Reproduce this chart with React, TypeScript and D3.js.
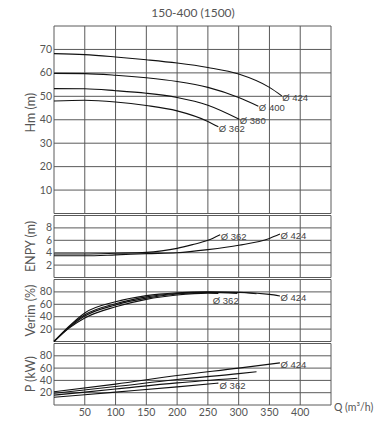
import React from "react";
import * as d3 from "d3";

const title = "150-400 (1500)";
const xTicks = [50, 100, 150, 200, 250, 300, 350, 400];
const xGrid = [0, 50, 100, 150, 200, 250, 300, 350, 400, 450];

// Head curves (Q m3/h, H m)
const hQ424 = [0, 50, 100, 150, 200, 250, 300, 350, 370];
const hH424 = [68.2, 67.8, 66.8, 65.6, 64.2, 62.3, 59.5, 53.8, 50.2];
const hQ400 = [0, 50, 100, 150, 200, 250, 300, 332];
const hH400 = [59.8, 59.7, 59.0, 57.9, 56.3, 53.8, 49.5, 45.8];
const hQ380 = [0, 50, 100, 150, 200, 250, 301];
const hH380 = [53.3, 53.2, 52.4, 51.3, 49.5, 46.2, 40.2];
const hQ362 = [0, 50, 100, 150, 200, 250, 267];
const hH362 = [48.0, 48.3, 47.6, 46.1, 43.8, 39.3, 37.0];

// NPSH curves
const nQ362 = [0, 50, 100, 150, 175, 200, 225, 250, 270];
const nV362 = [3.8, 3.8, 3.9, 4.05, 4.3, 4.7, 5.3, 6.0, 6.9];
const nQ424 = [0, 50, 100, 150, 200, 250, 300, 350, 367];
const nV424 = [3.5, 3.5, 3.65, 3.85, 4.0, 4.5, 5.2, 6.3, 7.0];

// Efficiency curves
const eQ424 = [0, 25, 50, 100, 150, 200, 250, 300, 350, 367];
const eV424 = [0, 25, 46, 64, 74, 78.5, 80, 79.5, 76, 73.5];
const eQ400 = [0, 25, 50, 100, 150, 200, 250, 300, 329];
const eV400 = [0, 24, 43, 61, 72, 77.5, 79.5, 79, 77];
const eQ380 = [0, 25, 50, 100, 150, 200, 250, 298];
const eV380 = [0, 23, 41, 59, 70, 76.5, 79, 77.5];
const eQ362 = [0, 25, 50, 100, 150, 200, 250, 267];
const eV362 = [0, 22, 38, 56, 68, 75, 78, 77.5];

// Power curves
const pQ424 = [0, 100, 200, 300, 367];
const pV424 = [21.5, 34, 48, 60, 68.5];
const pQ400 = [0, 100, 200, 300, 329];
const pV400 = [19, 30, 41.5, 51, 54];
const pQ380 = [0, 100, 200, 298];
const pV380 = [16, 26, 36, 43.5];
const pQ362 = [0, 100, 200, 267];
const pV362 = [12.5, 21, 29.5, 35.5];

const hTicks = [10, 20, 30, 40, 50, 60, 70];
const nTicks = [2, 4, 6, 8];
const eTicks = [20, 40, 60, 80];
const pTicks = [20, 40, 60, 80];

const zip = (q: number[], v: number[]) => q.map((d, i) => [d, v[i]] as [number, number]);

const LEFT = 54;
const RIGHT = 331;
const GRID = "#5a5a5a";
const TEXT = "#555";
const AXFONT = "Lato, 'DejaVu Sans', sans-serif";
const LBLFONT = "'Liberation Sans', Arial, sans-serif";

type Panel = {
  top: number;
  bottom: number;
  max: number;
  ticks: number[];
  label: string;
  series: { pts: [number, number][]; label?: string }[];
};

export default function App() {
  const x = d3.scaleLinear().domain([0, 450]).range([LEFT, RIGHT]);

  const panels: Panel[] = [
    {
      top: 26, bottom: 213.5, max: 80, ticks: hTicks, label: "Hm (m)",
      series: [
        { pts: zip(hQ424, hH424), label: "Ø 424" },
        { pts: zip(hQ400, hH400), label: "Ø 400" },
        { pts: zip(hQ380, hH380), label: "Ø 380" },
        { pts: zip(hQ362, hH362), label: "Ø 362" },
      ],
    },
    {
      top: 215.5, bottom: 277.5, max: 10, ticks: nTicks, label: "ENPY (m)",
      series: [
        { pts: zip(nQ362, nV362), label: "Ø 362" },
        { pts: zip(nQ424, nV424), label: "Ø 424" },
      ],
    },
    {
      top: 279.5, bottom: 341.5, max: 100, ticks: eTicks, label: "Verim (%)",
      series: [
        { pts: zip(eQ424, eV424), label: "Ø 424" },
        { pts: zip(eQ400, eV400) },
        { pts: zip(eQ380, eV380) },
        { pts: zip(eQ362, eV362) },
      ],
    },
    {
      top: 343.5, bottom: 405, max: 100, ticks: pTicks, label: "P (kW)",
      series: [
        { pts: zip(pQ424, pV424), label: "Ø 424" },
        { pts: zip(pQ400, pV400) },
        { pts: zip(pQ380, pV380) },
        { pts: zip(pQ362, pV362) },
      ],
    },
  ];

  const extraLabels = [
    { panel: 2, q: 258, v: 67, text: "Ø 362" },
    { panel: 3, q: 269, v: 32, text: "Ø 362" },
  ];

  return (
    <svg width={380} height={431} style={{ position: "absolute", left: 0, top: 0, background: "#fff" }}>
      <text x={193} y={17} textAnchor="middle" fontSize={12} fill={TEXT} fontFamily={AXFONT}>{title}</text>
      {panels.map((p, pi) => {
        const y = d3.scaleLinear().domain([0, p.max]).range([p.bottom, p.top]);
        const line = d3.line<[number, number]>().x(d => x(d[0])).y(d => y(d[1])).curve(d3.curveMonotoneX);
        return (
          <g key={pi}>
            {xGrid.map(g => (
              <line key={"v" + g} x1={x(g)} x2={x(g)} y1={p.top} y2={p.bottom} stroke={GRID} strokeWidth={1} />
            ))}
            {[0, ...p.ticks, p.max].map(t => (
              <line key={"h" + t} x1={LEFT} x2={RIGHT} y1={y(t)} y2={y(t)} stroke={GRID} strokeWidth={1} />
            ))}
            {p.ticks.map(t => (
              <text key={"t" + t} x={52} y={y(t) + 3.5} textAnchor="end" fontSize={10.5} fill={TEXT} fontFamily={AXFONT}>{t}</text>
            ))}
            <text
              transform={`translate(35,${(p.top + p.bottom) / 2 + (pi === 0 ? -7 : 0)}) rotate(-90)`}
              textAnchor="middle" fontSize={12.5} fill={TEXT} fontFamily={AXFONT}
            >{p.label}</text>
            {p.series.map((s, si) => {
              const last = s.pts[s.pts.length - 1];
              return (
                <g key={si}>
                  <path d={line(s.pts) || ""} fill="none" stroke="#111" strokeWidth={1.1} />
                  {s.label && !(pi >= 2 && s.label === "Ø 362") && (
                    <text x={x(last[0]) + 0.5} y={y(last[1]) + 5} fontSize={9.5} fill="#444" fontFamily={LBLFONT}>{s.label}</text>
                  )}
                </g>
              );
            })}
            {extraLabels.filter(l => l.panel === pi).map((l, li) => (
              <text key={"e" + li} x={x(l.q)} y={y(l.v) + 4} fontSize={9.5} fill="#444" fontFamily={LBLFONT}>{l.text}</text>
            ))}
          </g>
        );
      })}
      {xTicks.map(t => (
        <text key={"x" + t} x={x(t)} y={416} textAnchor="middle" fontSize={10.5} fill={TEXT} fontFamily={AXFONT}>{t}</text>
      ))}
      <text x={334} y={411} fontSize={10.5} fill={TEXT} fontFamily={AXFONT}>Q (m³/h)</text>
    </svg>
  );
}
